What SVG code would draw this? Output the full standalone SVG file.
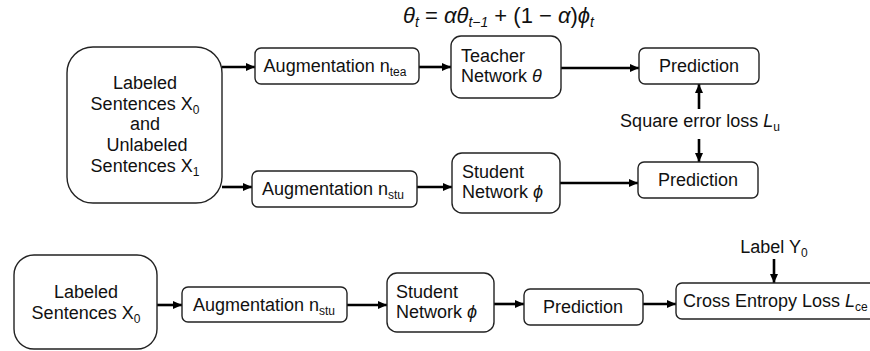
<svg xmlns="http://www.w3.org/2000/svg" width="870" height="351" viewBox="0 0 870 351">
<defs>
<marker id="ah" markerUnits="userSpaceOnUse" markerWidth="9" markerHeight="8" refX="9" refY="4" orient="auto"><path d="M0,0 L9,4 L0,8 Z" fill="#000"/></marker>
</defs>
<style>
.box{fill:#fff;stroke:#222;stroke-width:1.4}
text{font-family:'Liberation Sans',Arial,sans-serif}
.t{font-size:18px;fill:#111}
.m{font-style:italic;font-size:22px;fill:#111}
.c{text-anchor:middle}
.sub{font-size:12px}
.fs{font-size:14px}
.arr{stroke:#000;stroke-width:2.6;fill:none;marker-end:url(#ah)}
</style>
<rect width="870" height="351" fill="#fff"/>
<text class="m" x="403" y="23">θ<tspan class="fs" dy="4">t</tspan><tspan dy="-4" font-style="normal"> = </tspan>αθ<tspan class="fs" dy="4">t−1</tspan><tspan dy="-4" font-style="normal"> + (1 − </tspan>α<tspan font-style="normal">)</tspan>ϕ<tspan class="fs" dy="4">t</tspan></text>
<g id="connectors">
<line class="arr" x1="222" y1="67" x2="255" y2="67"/>
<line class="arr" x1="222" y1="187" x2="252" y2="187"/>
<line class="arr" x1="419" y1="67" x2="451" y2="67"/>
<line class="arr" x1="417" y1="187" x2="452" y2="187"/>
<line class="arr" x1="561" y1="68" x2="639" y2="68"/>
<line class="arr" x1="560" y1="183" x2="638" y2="183"/>
<line class="arr" x1="699" y1="109" x2="699" y2="84"/>
<line class="arr" x1="699" y1="139" x2="699" y2="162"/>
<line class="arr" x1="157" y1="305" x2="182" y2="305"/>
<line class="arr" x1="347" y1="305" x2="387" y2="305"/>
<line class="arr" x1="494" y1="304" x2="524" y2="304"/>
<line class="arr" x1="643" y1="304" x2="676" y2="304"/>
<line class="arr" x1="774" y1="259" x2="774" y2="283"/>
</g>
<g id="input-top">
<rect class="box" x="67" y="47" width="155" height="156" rx="26"/>
<text class="t c" x="145" y="89">Labeled</text>
<text class="t c" x="145" y="110">Sentences X<tspan class="sub" dy="4">0</tspan></text>
<text class="t c" x="145" y="130">and</text>
<text class="t c" x="147" y="151">Unlabeled</text>
<text class="t c" x="145" y="172">Sentences X<tspan class="sub" dy="4">1</tspan></text>
</g>
<g id="aug-tea">
<rect class="box" x="255" y="48" width="164" height="36" rx="6"/>
<text class="t c" x="335" y="72">Augmentation n<tspan class="sub" dy="4">tea</tspan></text>
</g>
<g id="aug-stu-top">
<rect class="box" x="252" y="171" width="165" height="36" rx="6"/>
<text class="t c" x="333" y="195">Augmentation n<tspan class="sub" dy="4">stu</tspan></text>
</g>
<g id="teacher">
<rect class="box" x="451" y="36" width="110" height="62" rx="10"/>
<text class="t" x="461" y="62">Teacher</text>
<text class="t" x="461" y="82">Network <tspan font-style="italic">θ</tspan></text>
</g>
<g id="student-top">
<rect class="box" x="452" y="153" width="108" height="60" rx="10"/>
<text class="t" x="462" y="178">Student</text>
<text class="t" x="462" y="198">Network <tspan font-style="italic">ϕ</tspan></text>
</g>
<g id="pred-tea">
<rect class="box" x="639" y="48" width="120" height="36" rx="6"/>
<text class="t c" x="699" y="72">Prediction</text>
</g>
<g id="pred-stu">
<rect class="box" x="638" y="162" width="120" height="36" rx="6"/>
<text class="t c" x="698" y="186">Prediction</text>
</g>
<g id="sq-loss">
<text class="t c" x="700" y="127">Square error loss <tspan font-style="italic">L</tspan><tspan class="sub" dy="4">u</tspan></text>
</g>
<g id="input-bottom">
<rect class="box" x="14" y="255" width="143" height="94" rx="20"/>
<text class="t c" x="86" y="298">Labeled</text>
<text class="t c" x="86" y="319">Sentences X<tspan class="sub" dy="4">0</tspan></text>
</g>
<g id="aug-stu-bottom">
<rect class="box" x="182" y="287" width="165" height="35" rx="6"/>
<text class="t c" x="264" y="311">Augmentation n<tspan class="sub" dy="4">stu</tspan></text>
</g>
<g id="student-bottom">
<rect class="box" x="387" y="273" width="107" height="59" rx="10"/>
<text class="t" x="396" y="298">Student</text>
<text class="t" x="396" y="318">Network <tspan font-style="italic">ϕ</tspan></text>
</g>
<g id="pred-bottom">
<rect class="box" x="524" y="289" width="119" height="36" rx="6"/>
<text class="t c" x="583" y="313">Prediction</text>
</g>
<g id="ce-loss">
<rect class="box" x="676" y="283" width="200" height="36" rx="6"/>
<text class="t" x="683" y="307">Cross Entropy Loss <tspan font-style="italic">L</tspan><tspan class="sub" dy="4">ce</tspan></text>
</g>
<g id="label-y0">
<text class="t c" x="774" y="253">Label Y<tspan class="sub" dy="4">0</tspan></text>
</g>
</svg>
